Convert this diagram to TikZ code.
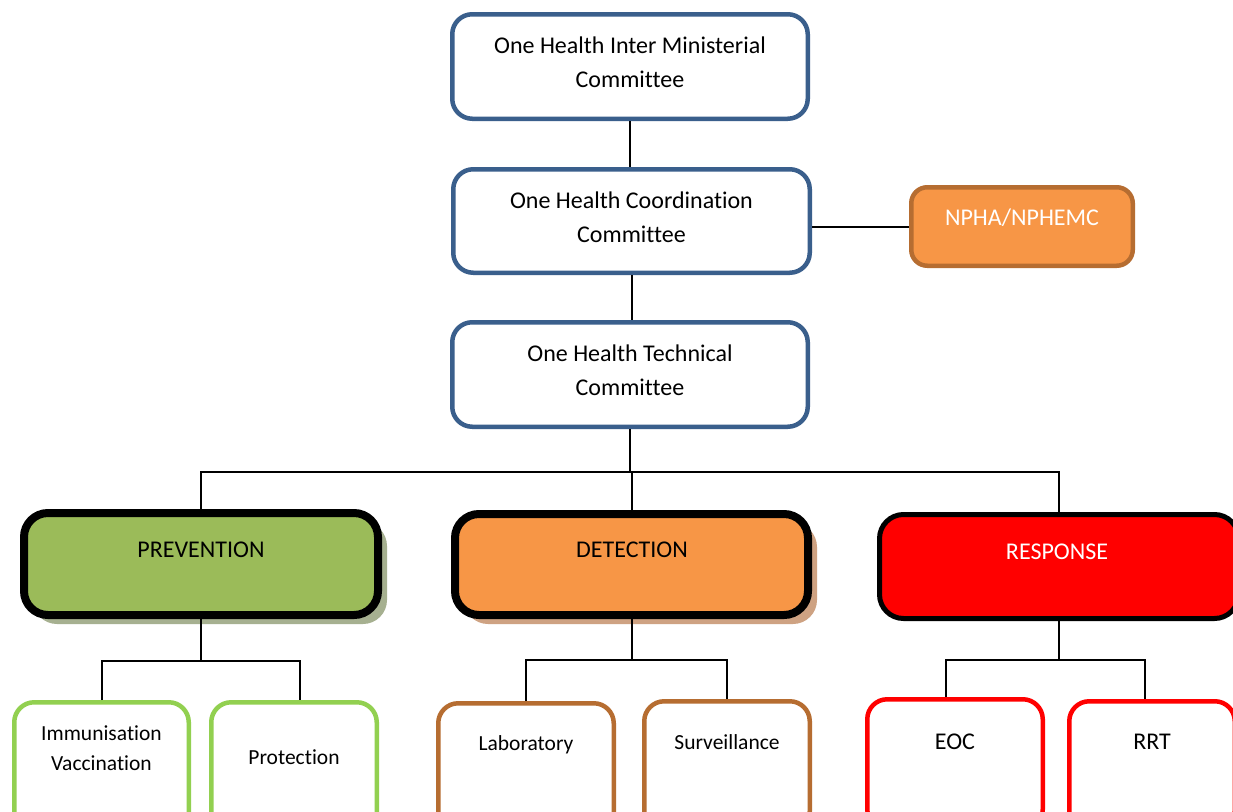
\documentclass[tikz,border=0pt]{standalone}
\usepackage{fontspec}
\setmainfont{Carlito}[Ligatures=NoCommon]
\usetikzlibrary{shadows}
\definecolor{oblue}{RGB}{58,95,140}
\definecolor{oorange}{HTML}{F79646}
\definecolor{obrown}{HTML}{B66D31}
\definecolor{ogreen}{HTML}{9BBB59}
\definecolor{lgreen}{HTML}{92D050}
\definecolor{shgreen}{RGB}{166,176,144}
\definecolor{shtan}{RGB}{206,162,130}
\newcommand\fbig{\fontsize{24}{34}\selectfont}
\newcommand\fsmall{\fontsize{21.5}{30}\selectfont}
\begin{document}
\begin{tikzpicture}[x=1pt,y=-1pt,
 box/.style={rectangle, rounded corners=20pt, inner sep=0pt},
 topbox/.style={box, draw=oblue, line width=4.5pt, fill=white},
 catbox/.style={box, draw=black, line width=8pt, rounded corners=24pt},
 leaf/.style={box, fill=white, line width=4.5pt, minimum height=130pt},
 conn/.style={line width=2pt, draw=black},
 lbl/.style={font=\fbig, align=center, inner sep=0pt},
 slbl/.style={font=\fsmall, align=center, inner sep=0pt}]
\clip (0,0) rectangle (1233,811);
\fill[white] (0,0) rectangle (1233,811);

% top boxes
\node[topbox, minimum width=355.5pt, minimum height=104.5pt] (imc) at (630,66.5) {};
\node[topbox, minimum width=356.5pt, minimum height=103.5pt] (coord) at (631.5,221) {};
\node[topbox, minimum width=355.5pt, minimum height=104.5pt] (tech) at (630,374.5) {};
\node[box, draw=obrown, fill=oorange, line width=4.5pt, rounded corners=16pt,
      minimum width=221.5pt, minimum height=78.5pt] (npha) at (1022,226.5) {};

% category boxes
\node[catbox, fill=ogreen, minimum width=354pt, minimum height=102pt,
      drop shadow={shadow xshift=9pt, shadow yshift=-9pt, fill=shgreen, opacity=1}] (pre) at (201,564) {};
\node[catbox, fill=oorange, minimum width=353pt, minimum height=101pt,
      drop shadow={shadow xshift=9pt, shadow yshift=-9pt, fill=shtan, opacity=1}] (det) at (631.5,564.5) {};
\node[catbox, fill=red, line width=5pt, minimum width=359pt, minimum height=104pt] (resp) at (1059,566.5) {};

% leaf boxes
\node[leaf, draw=lgreen, minimum width=174.5pt] (imm) at (101.5,767.25) {};
\node[leaf, draw=lgreen, minimum width=165.5pt] (prot) at (294,767.25) {};
\node[leaf, draw=obrown, minimum width=175.5pt] (lab) at (526,768.25) {};
\node[leaf, draw=obrown, minimum width=165.5pt] (surv) at (727,766.25) {};
\node[leaf, draw=red, minimum width=175.5pt] (eoc) at (955,764.25) {};
\node[leaf, draw=red, minimum width=165.5pt] (rrt) at (1152,766.25) {};

% connectors
\draw[conn] (imc.south) -- (imc.south |- coord.north);
\draw[conn] (coord.east |- npha.west) -- (npha.west);
\draw[conn] (coord.south) -- (coord.south |- tech.north);
\coordinate (tb) at (632,472);
\draw[conn] (tech.south) -- (tech.south |- tb);
\draw[conn] (pre.north) |- (tb) -| (resp.north);
\draw[conn] (det.north) -- (det.north |- tb);
\coordinate (pb) at (201,661);
\draw[conn] (pre.south) -- (pb);
\draw[conn] (imm.north) |- (pb) -| ([xshift=6pt]prot.north);
\coordinate (db) at (632,660);
\draw[conn] (det.south) -- (det.south |- db);
\draw[conn] (lab.north) |- (db) -| (surv.north);
\coordinate (rb) at (1059,660);
\draw[conn] (resp.south) -- (rb);
\draw[conn] ([xshift=-9pt]eoc.north) |- (rb) -| ([xshift=-7pt]rrt.north);

% labels
\node[lbl] (timc) at (630,62) {One Health Inter Ministerial\\Committee};
\node[lbl] (tcoord) at (631.5,217) {One Health Coordination\\Committee};
\node[lbl] (ttech) at (630,370) {One Health Technical\\Committee};
\node[lbl, text=white] (tnpha) at (1022,218) {NPHA/NPHEMC};
\node[lbl] (tpre) at (201,550) {PREVENTION};
\node[lbl] (tdet) at (632,550) {DETECTION};
\node[lbl, text=white] (tresp) at (1057,552) {RESPONSE};
\node[slbl] (timm) at (101.5,748) {Immunisation\\Vaccination};
\node[slbl] (tprot) at (294,757) {Protection};
\node[slbl] (tlab) at (526,745) {Laboratory};
\node[slbl] (tsurv) at (727,742) {Surveillance};
\node[lbl] (teoc) at (955,742) {EOC};
\node[lbl] (trrt) at (1152,742) {RRT};
\end{tikzpicture}
\end{document}
